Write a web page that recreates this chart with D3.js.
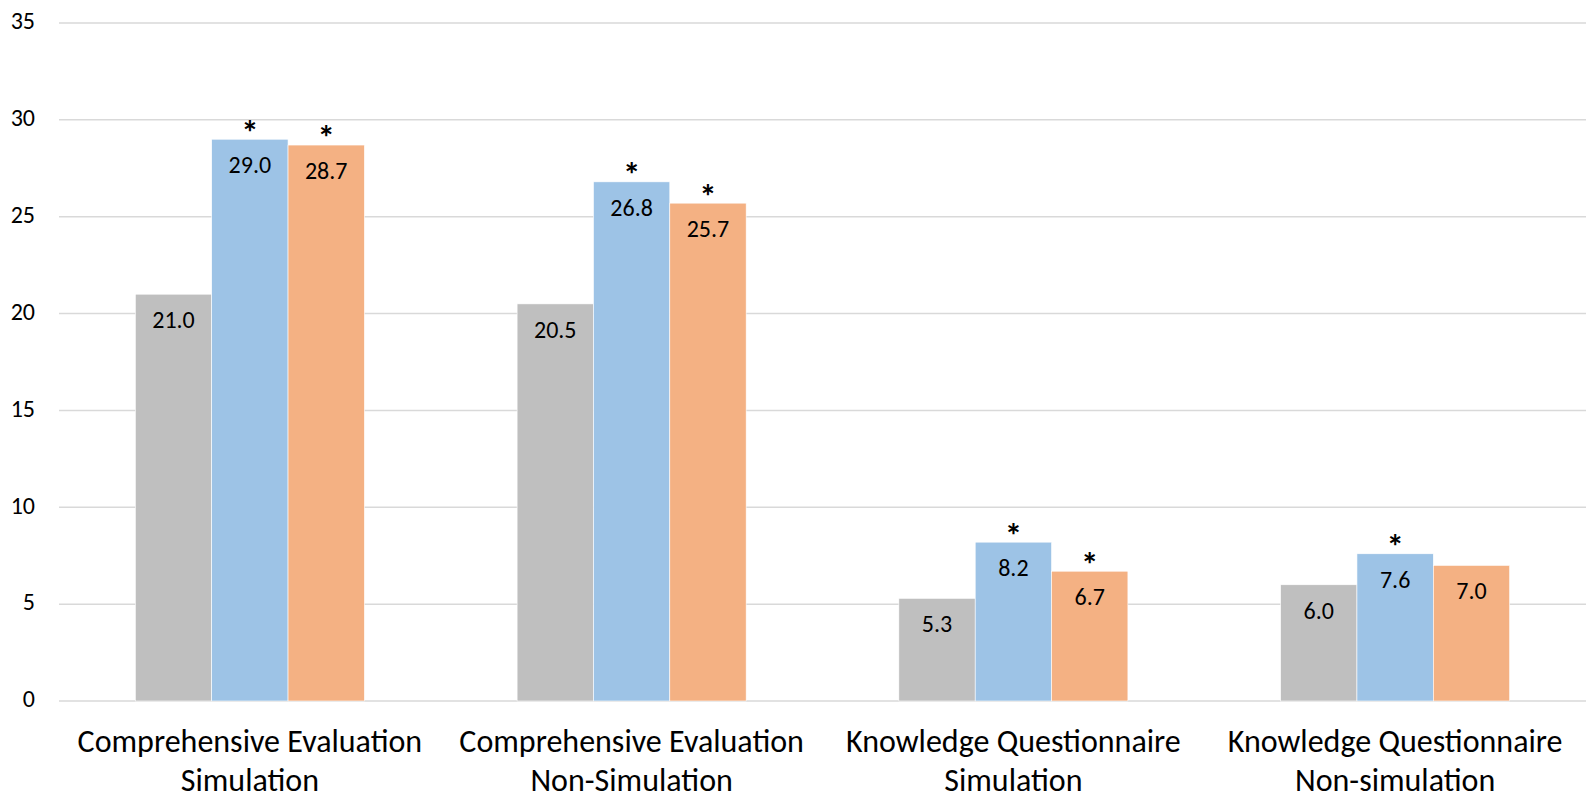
<!DOCTYPE html>
<html>
<head>
<meta charset="utf-8">
<script src="https://cdn.jsdelivr.net/npm/d3@7"></script>
<style>
  body { margin: 0; background: #fff; }
  svg text { font-family: Carlito, Calibri, Lato, sans-serif; fill: #000; }
</style>
</head>
<body>
<svg id="chart"></svg>
<script>
// set the dimensions of the canvas
const width = 1594;
const height = 799;

// chart data
const categories = [
  ["Comprehensive Evaluation", "Simulation"],
  ["Comprehensive Evaluation", "Non-Simulation"],
  ["Knowledge Questionnaire", "Simulation"],
  ["Knowledge Questionnaire", "Non-simulation"]
];
const seriesNames = ["Series 1", "Series 2", "Series 3"];
const seriesColours = ["#bfbfbf", "#9dc3e6", "#f4b183"];
const series1 = [21.0, 20.5, 5.3, 6.0];
const series2 = [29.0, 26.8, 8.2, 7.6];
const series3 = [28.7, 25.7, 6.7, 7.0];
// significance marks (1 = asterisk above bar)
const stars2 = [1, 1, 1, 1];
const stars3 = [1, 1, 1, 0];
const yTicks = [0, 5, 10, 15, 20, 25, 30, 35];

const margin = { top: 23, right: 8, bottom: 98, left: 59 };

const svg = d3.select("#chart")
  .attr("width", width)
  .attr("height", height);

const x0 = d3.scaleBand()
  .domain(d3.range(categories.length))
  .range([margin.left, width - margin.right])
  .paddingInner(0.4)
  .paddingOuter(0.2);

const x1 = d3.scaleBand()
  .domain(d3.range(seriesNames.length))
  .range([0, x0.bandwidth()]);

const y = d3.scaleLinear()
  .domain([0, 35])
  .range([height - margin.bottom, margin.top]);

// gridlines
svg.append("g")
  .selectAll("line")
  .data(yTicks)
  .enter()
  .append("line")
  .attr("x1", margin.left)
  .attr("x2", width - margin.right)
  .attr("y1", (d) => y(d))
  .attr("y2", (d) => y(d))
  .attr("stroke", "#d9d9d9")
  .attr("stroke-width", 1.5);

// y axis labels
svg.append("g")
  .selectAll("text")
  .data(yTicks)
  .enter()
  .append("text")
  .attr("x", 35)
  .attr("y", (d) => y(d))
  .attr("dy", "0.26em")
  .attr("text-anchor", "end")
  .style("font-size", "24px")
  .text((d) => d);

// flatten the series for the bars
const allSeries = [series1, series2, series3];
const allStars = [null, stars2, stars3];
const bars = [];
categories.forEach((c, i) => {
  allSeries.forEach((s, j) => {
    bars.push({ cat: i, ser: j, value: s[i], star: allStars[j] ? allStars[j][i] : 0 });
  });
});

const group = svg.append("g").attr("class", "bars");

group.selectAll("rect")
  .data(bars)
  .enter()
  .append("rect")
  .attr("x", (d) => x0(d.cat) + x1(d.ser))
  .attr("y", (d) => y(d.value))
  .attr("width", x1.bandwidth())
  .attr("height", (d) => y(0) - y(d.value))
  .attr("fill", (d) => seriesColours[d.ser])
  .attr("stroke", "#fff")
  .attr("stroke-width", 0.6);

// value labels, inside end
group.selectAll("text.value")
  .data(bars)
  .enter()
  .append("text")
  .attr("class", "value")
  .attr("x", (d) => x0(d.cat) + x1(d.ser) + x1.bandwidth() / 2)
  .attr("y", (d) => y(d.value) + 26)
  .attr("dy", "0.33em")
  .attr("text-anchor", "middle")
  .style("font-size", "24px")
  .text((d) => d.value.toFixed(1));

// asterisks
group.selectAll("text.star")
  .data(bars.filter((d) => d.star))
  .enter()
  .append("text")
  .attr("class", "star")
  .attr("x", (d) => x0(d.cat) + x1(d.ser) + x1.bandwidth() / 2)
  .attr("y", (d) => y(d.value) - 12)
  .attr("dy", "0.47em")
  .attr("text-anchor", "middle")
  .style("font-size", "35px")
  .style("font-weight", "bold")
  .text("*");

// category labels, two lines
const catLabels = svg.append("g")
  .selectAll("text")
  .data(categories)
  .enter()
  .append("text")
  .attr("text-anchor", "middle")
  .style("font-size", "32px");

catLabels.each(function (d, i) {
  const t = d3.select(this);
  d.forEach((line, k) => {
    t.append("tspan")
      .attr("x", x0(i) + x0.bandwidth() / 2)
      .attr("y", 752 + k * 39)
      .text(line);
  });
});
</script>
</body>
</html>
